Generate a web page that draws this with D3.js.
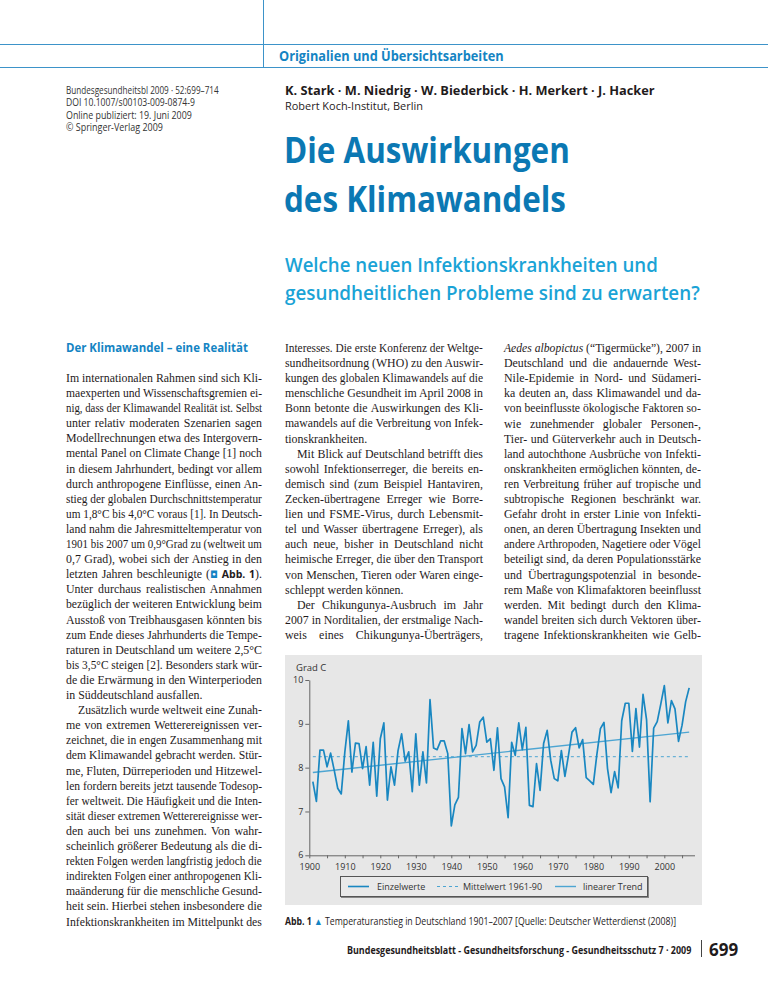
<!DOCTYPE html>
<html>
<head>
<meta charset="utf-8">
<script src="https://cdn.jsdelivr.net/npm/d3@7"></script>
<style>
  html, body { margin: 0; padding: 0; background: #ffffff; }
  svg { display: block; }
</style>
</head>
<body>
<script>
// ---------------- DATA ----------------
const years = d3.range(1901, 2008);
const temps = [
  7.68, 7.23, 8.40, 8.40, 8.02, 8.33, 7.95, 7.53, 7.40, 8.35,
  9.07, 7.90, 8.56, 8.55, 7.98, 8.48, 7.60, 8.58, 7.35, 8.66,
  9.02, 7.26, 8.02, 7.60, 8.39, 8.77, 8.15, 8.36, 7.45, 8.77,
  7.60, 8.36, 7.65, 9.55, 8.45, 8.41, 8.61, 8.61, 8.32, 6.67,
  7.15, 7.32, 8.89, 8.32, 8.98, 8.36, 8.51, 9.04, 9.15, 8.58,
  8.66, 7.94, 8.91, 7.75, 7.56, 6.86, 8.58, 8.28, 9.02, 8.41,
  8.92, 7.14, 7.11, 8.09, 7.48, 8.55, 8.85, 8.17, 7.75, 7.70,
  8.39, 7.80, 8.28, 8.81, 8.91, 8.45, 8.64, 7.77, 7.70, 7.62,
  8.30, 8.89, 9.03, 7.98, 7.43, 7.91, 7.54, 9.07, 9.47, 9.47,
  8.37, 9.35, 8.47, 9.67, 9.09, 7.22, 8.90, 9.05, 9.45, 9.87,
  9.02, 9.53, 9.34, 8.60, 8.97, 9.50, 9.82
];
const trendYears = [1901, 2007];
const trendValues = [7.89, 8.81];
const meanYears = [1901, 2007];
const meanValues = [8.25, 8.25];
const yTicks = [6, 7, 8, 9, 10];
const xTickLabels = [1900, 1910, 1920, 1930, 1940, 1950, 1960, 1970, 1980, 1990, 2000];
const xMinorTicks = d3.range(1900, 2006, 5);
const legendLabels = ["Einzelwerte", "Mittelwert 1961-90", "linearer Trend"];
const yAxisTitle = "Grad C";

// ---------------- PAGE TEXT ----------------
const headerLabel = "Originalien und Übersichtsarbeiten";
const metaLines = [
  "Bundesgesundheitsbl 2009 · 52:699–714",
  "DOI 10.1007/s00103-009-0874-9",
  "Online publiziert: 19. Juni 2009",
  "© Springer-Verlag 2009"
];
const authors = "K. Stark · M. Niedrig · W. Biederbick · H. Merkert · J. Hacker";
const institute = "Robert Koch-Institut, Berlin";
const titleLines = ["Die Auswirkungen", "des Klimawandels"];
const subtitleLines = ["Welche neuen Infektionskrankheiten und", "gesundheitlichen Probleme sind zu erwarten?"];
const sectionHeading = "Der Klimawandel – eine Realität";
// "\t" prefix = indented first line of paragraph, "¶" suffix = last line of paragraph
const col1 = [
  "Im internationalen Rahmen sind sich Kli-",
  "maexperten und Wissenschaftsgremien ei-",
  "nig, dass der Klimawandel Realität ist. Selbst",
  "unter relativ moderaten Szenarien sagen",
  "Modellrechnungen etwa des Intergovern-",
  "mental Panel on Climate Change [1] noch",
  "in diesem Jahrhundert, bedingt vor allem",
  "durch anthropogene Einflüsse, einen An-",
  "stieg der globalen Durchschnittstemperatur",
  "um 1,8°C bis 4,0°C voraus [1]. In Deutsch-",
  "land nahm die Jahresmitteltemperatur von",
  "1901 bis 2007 um 0,9°Grad zu (weltweit um",
  "0,7 Grad), wobei sich der Anstieg in den",
  "ABBREF",
  "Unter durchaus realistischen Annahmen",
  "bezüglich der weiteren Entwicklung beim",
  "Ausstoß von Treibhausgasen könnten bis",
  "zum Ende dieses Jahrhunderts die Tempe-",
  "raturen in Deutschland um weitere 2,5°C",
  "bis 3,5°C steigen [2]. Besonders stark wür-",
  "de die Erwärmung in den Winterperioden",
  "in Süddeutschland ausfallen.¶",
  "\tZusätzlich wurde weltweit eine Zunah-",
  "me von extremen Wetterereignissen ver-",
  "zeichnet, die in engen Zusammenhang mit",
  "dem Klimawandel gebracht werden. Stür-",
  "me, Fluten, Dürreperioden und Hitzewel-",
  "len fordern bereits jetzt tausende Todesop-",
  "fer weltweit. Die Häufigkeit und die Inten-",
  "sität dieser extremen Wetterereignisse wer-",
  "den auch bei uns zunehmen. Von wahr-",
  "scheinlich größerer Bedeutung als die di-",
  "rekten Folgen werden langfristig jedoch die",
  "indirekten Folgen einer anthropogenen Kli-",
  "maänderung für die menschliche Gesund-",
  "heit sein. Hierbei stehen insbesondere die",
  "Infektionskrankheiten im Mittelpunkt des"
];
const col2 = [
  "Interesses. Die erste Konferenz der Weltge-",
  "sundheitsordnung (WHO) zu den Auswir-",
  "kungen des globalen Klimawandels auf die",
  "menschliche Gesundheit im April 2008 in",
  "Bonn betonte die Auswirkungen des Kli-",
  "mawandels auf die Verbreitung von Infek-",
  "tionskrankheiten.¶",
  "\tMit Blick auf Deutschland betrifft dies",
  "sowohl Infektionserreger, die bereits en-",
  "demisch sind (zum Beispiel Hantaviren,",
  "Zecken-übertragene Erreger wie Borre-",
  "lien und FSME-Virus, durch Lebensmit-",
  "tel und Wasser übertragene Erreger), als",
  "auch neue, bisher in Deutschland nicht",
  "heimische Erreger, die über den Transport",
  "von Menschen, Tieren oder Waren einge-",
  "schleppt werden können.¶",
  "\tDer Chikungunya-Ausbruch im Jahr",
  "2007 in Norditalien, der erstmalige Nach-",
  "weis eines Chikungunya-Überträgers,"
];
const col3 = [
  "AEDES",
  "Deutschland und die andauernde West-",
  "Nile-Epidemie in Nord- und Südameri-",
  "ka deuten an, dass Klimawandel und da-",
  "von beeinflusste ökologische Faktoren so-",
  "wie zunehmender globaler Personen-,",
  "Tier- und Güterverkehr auch in Deutsch-",
  "land autochthone Ausbrüche von Infekti-",
  "onskrankheiten ermöglichen könnten, de-",
  "ren Verbreitung früher auf tropische und",
  "subtropische Regionen beschränkt war.",
  "Gefahr droht in erster Linie von Infekti-",
  "onen, an deren Übertragung Insekten und",
  "andere Arthropoden, Nagetiere oder Vögel",
  "beteiligt sind, da deren Populationsstärke",
  "und Übertragungspotenzial in besonde-",
  "rem Maße von Klimafaktoren beeinflusst",
  "werden. Mit bedingt durch den Klima-",
  "wandel breiten sich durch Vektoren über-",
  "tragene Infektionskrankheiten wie Gelb-"
];
const captionParts = ["Abb. 1", " ▲ ", "Temperaturanstieg in Deutschland 1901–2007 [Quelle: Deutscher Wetterdienst (2008)]"];
const footerText = "Bundesgesundheitsblatt - Gesundheitsforschung - Gesundheitsschutz 7 · 2009";
const pageNumber = "699";

// ---------------- STYLE ----------------
const SANS = "'Open Sans', 'Noto Sans', sans-serif";
const SERIF = "'Liberation Serif', 'DejaVu Serif', serif";
const INK = "#1f1b1c";
const BLUE_DARK = "#0b78b3";
const BLUE_LIGHT = "#1aa3d6";
const BLUE_MID = "#1484c3";
const RULE = "#3d93c9";

const W = 768, H = 994;
const svg = d3.select("body").append("svg").attr("width", W).attr("height", H);

// horizontally condense a text element to a target width (anchored at its x)
function condense(sel, w, onlyShrink) {
  const node = sel.node();
  const nat = node.getComputedTextLength();
  if (onlyShrink && nat <= w) return sel;
  const x0 = +sel.attr("x");
  const k = w / nat;
  sel.attr("transform", `translate(${x0},0) scale(${k},1) translate(${-x0},0)`);
  return sel;
}

// ---------------- HEADER ----------------
svg.append("line").attr("x1", 0).attr("x2", W).attr("y1", 44.5).attr("y2", 44.5).attr("stroke", RULE).attr("stroke-width", 1);
svg.append("line").attr("x1", 0).attr("x2", W).attr("y1", 67.5).attr("y2", 67.5).attr("stroke", RULE).attr("stroke-width", 1);
svg.append("line").attr("x1", 263.5).attr("x2", 263.5).attr("y1", 0).attr("y2", 67.5).attr("stroke", RULE).attr("stroke-width", 1);
condense(svg.append("text").attr("x", 279).attr("y", 61).attr("font-family", SANS).attr("font-weight", 700)
  .attr("font-size", 14).attr("fill", BLUE_MID).text(headerLabel), 225);

const metaWidths = [153, 129, 126, 97];
metaLines.forEach((t, i) => {
  condense(svg.append("text").attr("x", 66).attr("y", 94 + i * 12.5).attr("font-family", SANS)
    .attr("font-size", 10).attr("fill", "#333").text(t), metaWidths[i]);
});
condense(svg.append("text").attr("x", 285).attr("y", 95).attr("font-family", SANS).attr("font-weight", 700)
  .attr("font-size", 12.5).attr("fill", INK).text(authors), 370);
condense(svg.append("text").attr("x", 285).attr("y", 110).attr("font-family", SANS)
  .attr("font-size", 11.5).attr("fill", INK).text(institute), 138);

const titleWidths = [286, 282];
titleLines.forEach((t, i) => {
  condense(svg.append("text").attr("x", 284).attr("y", 163 + i * 49).attr("font-family", SANS).attr("font-weight", 700)
    .attr("font-size", 36).attr("fill", BLUE_DARK).text(t), titleWidths[i]);
});
const subWidths = [373, 415];
subtitleLines.forEach((t, i) => {
  condense(svg.append("text").attr("x", 285).attr("y", 272 + i * 28).attr("font-family", SANS).attr("font-weight", 600)
    .attr("font-size", 20.5).attr("fill", BLUE_LIGHT).text(t), subWidths[i]);
});

condense(svg.append("text").attr("x", 66).attr("y", 352).attr("font-family", SANS).attr("font-weight", 700)
  .attr("font-size", 13).attr("fill", BLUE_MID).text(sectionHeading), 182);

// ---------------- BODY COLUMNS ----------------
const LH = 15.1;
const BODY_FS = 11.9;
function justify(textSel, target, doJustify) {
  const node = textSel.node();
  const len = node.getComputedTextLength();
  if (!doJustify) {
    if (len > target) condense(textSel, target);
    return;
  }
  const content = node.textContent;
  const spaces = (content.match(/ /g) || []).length;
  if (len < target && spaces > 0) {
    textSel.attr("word-spacing", (target - len) / spaces);
  } else {
    condense(textSel, target);
  }
}
function drawColumn(lines, x0, width, y0) {
  lines.forEach((raw, i) => {
    const y = y0 + i * LH;
    let t = raw;
    let indent = 0, last = false;
    if (t.startsWith("\t")) { indent = 12; t = t.slice(1); }
    if (t.endsWith("¶")) { last = true; t = t.slice(0, -1); }
    const txt = svg.append("text").attr("x", x0 + indent).attr("y", y)
      .attr("font-family", SERIF).attr("font-size", BODY_FS).attr("fill", INK);
    if (t === "ABBREF") {
      txt.append("tspan").text("letzten Jahren beschleunigte (");
      txt.append("tspan").attr("font-family", "'DejaVu Sans', sans-serif").attr("font-size", 10).attr("fill", BLUE_MID).text("◘");
      txt.append("tspan").attr("font-family", SANS).attr("font-weight", 700).attr("font-size", 10.5).text(" Abb. 1");
      txt.append("tspan").text(").");
    } else if (t === "AEDES") {
      txt.append("tspan").attr("font-style", "italic").text("Aedes albopictus");
      txt.append("tspan").text(" (\u201CTigermücke\u201D), 2007 in");
    } else {
      txt.text(t);
    }
    justify(txt, width - indent, !last);
  });
}
drawColumn(col1, 66, 196, 382);
drawColumn(col2, 285, 198, 352);
drawColumn(col3, 504, 197, 352);

// ---------------- CHART ----------------
svg.append("rect").attr("x", 285).attr("y", 655).attr("width", 417).attr("height", 250).attr("fill", "#e7e7e7");

const x = d3.scaleLinear().domain([1900, 2008.5]).range([309.3, 694.5]);
const y = d3.scaleLinear().domain([6, 10]).range([855.3, 680]);

svg.append("text").attr("x", 296).attr("y", 671).attr("font-family", SANS).attr("font-size", 9.5)
  .attr("fill", "#333").text(yAxisTitle);

const yAxis = svg.append("g").attr("transform", "translate(309.3,0)")
  .call(d3.axisLeft(y).tickValues(yTicks).tickSize(4).tickSizeOuter(0).tickPadding(2).tickFormat(d3.format("d")));
const xAxis = svg.append("g").attr("transform", "translate(0,855.3)")
  .call(d3.axisBottom(x).tickValues(xMinorTicks).tickSize(3).tickSizeOuter(0).tickPadding(5.5)
    .tickFormat(d => xTickLabels.includes(d) ? d : ""));
[yAxis, xAxis].forEach(g => {
  g.select(".domain").attr("stroke", "#666").attr("stroke-width", 1);
  g.selectAll(".tick line").attr("stroke", "#666");
  g.selectAll(".tick text").attr("font-family", SANS).attr("font-size", 9).attr("fill", "#333");
});
yAxis.selectAll(".tick text").attr("dy", "0.28em");

const lineGen = d3.line().x(d => x(d[0])).y(d => y(d[1]));
const SERIES = "#1987c1";
const TREND = "#4da5d2";
svg.append("path").datum(d3.zip(meanYears, meanValues)).attr("d", lineGen)
  .attr("fill", "none").attr("stroke", TREND).attr("stroke-width", 1).attr("stroke-dasharray", "3,3");
svg.append("path").datum(d3.zip(trendYears, trendValues)).attr("d", lineGen)
  .attr("fill", "none").attr("stroke", TREND).attr("stroke-width", 1.4);
svg.append("path").datum(d3.zip(years, temps)).attr("d", lineGen)
  .attr("fill", "none").attr("stroke", SERIES).attr("stroke-width", 1.7).attr("stroke-linejoin", "round");

// legend
const lg = svg.append("g");
lg.append("rect").attr("x", 340.5).attr("y", 876.5).attr("width", 307).attr("height", 20)
  .attr("fill", "#e9e9e9").attr("stroke", "#555").attr("stroke-width", 1);
lg.append("line").attr("x1", 648.5).attr("x2", 648.5).attr("y1", 877).attr("y2", 898).attr("stroke", "#888");
lg.append("line").attr("x1", 341).attr("x2", 649).attr("y1", 897.5).attr("y2", 897.5).attr("stroke", "#888");
const legendItems = [
  { x1: 348, x2: 369, tx: 377, dash: null, color: SERIES, w: 1.6 },
  { x1: 437, x2: 458, tx: 463, dash: "3,3", color: TREND, w: 1 },
  { x1: 555, x2: 576, tx: 583, dash: null, color: TREND, w: 1.4 }
];
legendItems.forEach((it, i) => {
  lg.append("line").attr("x1", it.x1).attr("x2", it.x2).attr("y1", 886.5).attr("y2", 886.5)
    .attr("stroke", it.color).attr("stroke-width", it.w).attr("stroke-dasharray", it.dash);
  lg.append("text").attr("x", it.tx).attr("y", 889.8).attr("font-family", SANS).attr("font-size", 9)
    .attr("fill", "#333").text(legendLabels[i]);
});

// caption
const cap = svg.append("text").attr("x", 285).attr("y", 925).attr("font-family", SANS).attr("font-size", 10).attr("fill", INK);
cap.append("tspan").attr("font-weight", 700).text(captionParts[0]);
cap.append("tspan").attr("fill", BLUE_MID).text(captionParts[1]);
cap.append("tspan").text(captionParts[2]);
condense(cap, 392);

// footer
condense(svg.append("text").attr("x", 347).attr("y", 954).attr("font-family", SANS).attr("font-weight", 700)
  .attr("font-size", 10).attr("fill", INK).text(footerText), 345);
svg.append("line").attr("x1", 701.5).attr("x2", 701.5).attr("y1", 940).attr("y2", 957).attr("stroke", "#444").attr("stroke-width", 1);
svg.append("text").attr("x", 709).attr("y", 956).attr("font-family", SANS).attr("font-weight", 700)
  .attr("font-size", 17).attr("fill", INK).text(pageNumber);
</script>
</body>
</html>
